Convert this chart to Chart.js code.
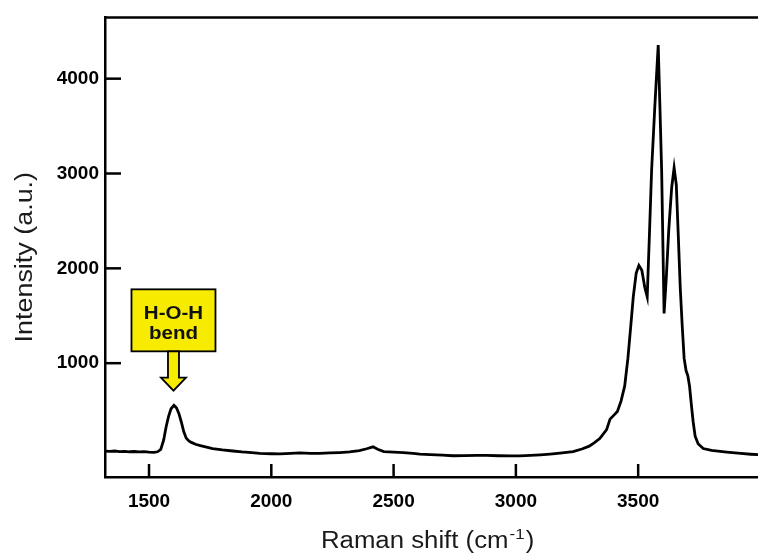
<!DOCTYPE html>
<html><head><meta charset="utf-8">
<script src="https://cdn.jsdelivr.net/npm/chart.js@4.4.1/dist/chart.umd.min.js"></script>
<style>html,body{margin:0;padding:0;background:#fff;}canvas{display:block;}</style>
</head><body>
<canvas id="c" width="758" height="554"></canvas>
<script>
// ---- data ----
const ramanShift = [1320,1340,1360,1380,1400,1420,1440,1460,1480,1500,1520,1535,1548,1560,1570,1580,1590,1602,1612,1622,1632,1642,1652,1663,1673,1690,1710,1735,1760,1800,1843,1880,1920,1953,2000,2035,2080,2116,2160,2198,2240,2280,2320,2360,2390,2416,2435,2460,2500,2540,2580,2607,2650,2700,2742,2790,2840,2880,2930,2980,3016,3060,3100,3140,3180,3234,3270,3300,3320,3343,3371,3385,3400,3415,3430,3445,3458,3470,3480,3492,3503,3515,3527,3537,3546,3555,3568,3582,3589,3596,3606,3615,3625,3637,3647,3656,3664,3672,3680,3688,3696,3703,3710,3718,3725,3733,3745,3766,3800,3862,3920,3960,3990];
const intensity  = [72,70,74,68,71,66,69,64,67,62,60,66,90,190,330,440,520,555,530,470,380,280,210,180,165,145,130,115,100,85,74,64,56,49,45,43,50,55,50,49,54,58,64,78,98,118,92,68,62,56,50,42,36,30,24,26,28,28,24,22,22,28,34,42,52,68,95,125,160,205,300,410,450,490,600,760,1050,1400,1700,1950,2030,1980,1800,1700,2350,3035,3700,4354,3700,3035,1524,1900,2400,2850,3060,2880,2350,1800,1400,1050,920,870,760,550,380,230,150,100,80,62,48,40,35];
const xTickValues = [1500,2000,2500,3000,3500];
const yTickValues = [1000,2000,3000,4000];
const xTitleParts = ['Raman shift (cm', '-1', ')'];
const yTitle = 'Intensity (a.u.)';
const annotationLines = ['H-O-H','bend'];
const annotationShift = 1600;          // band the arrow points at
const annotationTipIntensity = 710;    // arrow tip level
const annotationBoxBottomIntensity = 1125;

const FONT = "'Liberation Sans', Arial, Helvetica, sans-serif";

const framePlugin = {
  id: 'frame',
  afterDraw(chart) {
    const {ctx, chartArea: a, scales: {x, y}} = chart;
    ctx.save();
    ctx.strokeStyle = '#000';
    ctx.lineWidth = 2.5;
    // top border
    ctx.beginPath(); ctx.moveTo(a.left, a.top); ctx.lineTo(a.right + 2, a.top); ctx.stroke();
    // inward ticks
    xTickValues.forEach(v => {
      const px = x.getPixelForValue(v);
      ctx.beginPath(); ctx.moveTo(px, a.bottom); ctx.lineTo(px, a.bottom - 13); ctx.stroke();
    });
    yTickValues.forEach(v => {
      const py = y.getPixelForValue(v);
      ctx.beginPath(); ctx.moveTo(a.left, py); ctx.lineTo(a.left + 16, py); ctx.stroke();
    });
    // annotation box + arrow
    const cx = x.getPixelForValue(annotationShift);
    const tip = y.getPixelForValue(annotationTipIntensity);
    const boxBottom = y.getPixelForValue(annotationBoxBottomIntensity);
    const bw = 84, bh = 62;
    ctx.fillStyle = '#f7ec00';
    ctx.lineWidth = 1.8;
    ctx.fillRect(cx - bw/2, boxBottom - bh, bw, bh);
    ctx.strokeRect(cx - bw/2, boxBottom - bh, bw, bh);
    const headH = 13, shaftW = 11, headW = 25;
    ctx.beginPath();
    ctx.moveTo(cx - shaftW/2, boxBottom);
    ctx.lineTo(cx - shaftW/2, tip - headH);
    ctx.lineTo(cx - headW/2, tip - headH);
    ctx.lineTo(cx, tip);
    ctx.lineTo(cx + headW/2, tip - headH);
    ctx.lineTo(cx + shaftW/2, tip - headH);
    ctx.lineTo(cx + shaftW/2, boxBottom);
    ctx.closePath();
    ctx.fill(); ctx.stroke();
    ctx.fillStyle = '#111';
    ctx.textAlign = 'center';
    ctx.textBaseline = 'middle';
    ctx.save();
    ctx.translate(cx, boxBottom - bh + 24);
    ctx.scale(1.08, 1);
    ctx.font = 'bold 19px ' + FONT;
    ctx.fillText(annotationLines[0], 0, 0);
    ctx.fillText(annotationLines[1], 0, 20);
    ctx.restore();

    // axis titles (slightly wide lettering as in the reference)
    ctx.fillStyle = '#1a1a1a';
    ctx.textBaseline = 'alphabetic';
    ctx.textAlign = 'left';
    const big = '23px ' + FONT, small = '15px ' + FONT;
    ctx.font = big;  const w1 = ctx.measureText(xTitleParts[0]).width;
    ctx.font = small; const w2 = ctx.measureText(xTitleParts[1]).width;
    ctx.font = big;  const w3 = ctx.measureText(xTitleParts[2]).width;
    const tw = w1 + w2 + w3;
    ctx.save();
    ctx.translate((a.left + a.right) / 2 - 5, 548);
    ctx.scale(1.12, 1);
    let sx = -tw / 2;
    ctx.font = big; ctx.fillText(xTitleParts[0], sx, 0); sx += w1;
    ctx.font = small; ctx.fillText(xTitleParts[1], sx + 1, -9); sx += w2 + 2;
    ctx.font = big; ctx.fillText(xTitleParts[2], sx, 0);
    ctx.restore();

    ctx.save();
    ctx.translate(26, (a.top + a.bottom) / 2 + 10);
    ctx.rotate(-Math.PI / 2);
    ctx.scale(1.17, 1);
    ctx.font = big;
    ctx.textAlign = 'center';
    ctx.textBaseline = 'middle';
    ctx.fillText(yTitle, 0, 0);
    ctx.restore();

    ctx.restore();
  }
};

new Chart(document.getElementById('c'), {
  type: 'scatter',
  data: {
    datasets: [{
      data: ramanShift.map((v, i) => ({x: v, y: intensity[i]})),
      showLine: true,
      borderColor: '#000',
      borderWidth: 2.8,
      pointRadius: 0,
      tension: 0
    }]
  },
  options: {
    responsive: false,
    animation: false,
    devicePixelRatio: 1,
    layout: {padding: {top: 12, right: 0, left: 0, bottom: 0}},
    plugins: {legend: {display: false}, tooltip: {enabled: false}},
    scales: {
      x: {
        type: 'linear', min: 1320, max: 3990,
        afterBuildTicks: s => { s.ticks = xTickValues.map(v => ({value: v})); },
        afterFit: s => { s.height = 77; },
        grid: {display: false, drawTicks: false},
        border: {display: true, color: '#000', width: 2.5},
        ticks: {padding: 13, color: '#000', font: {family: FONT, size: 19, weight: 'bold'}, callback: v => String(v)},
        title: {display: false}
      },
      y: {
        type: 'linear', min: -200, max: 4646,
        afterBuildTicks: s => { s.ticks = yTickValues.map(v => ({value: v})); },
        afterFit: s => { s.width = 105; },
        grid: {display: false, drawTicks: false},
        border: {display: true, color: '#000', width: 2.5},
        ticks: {padding: 6, color: '#000', font: {family: FONT, size: 19, weight: 'bold'}, callback: v => String(v)},
        title: {display: false}
      }
    }
  },
  plugins: [framePlugin]
});
</script>
</body></html>
